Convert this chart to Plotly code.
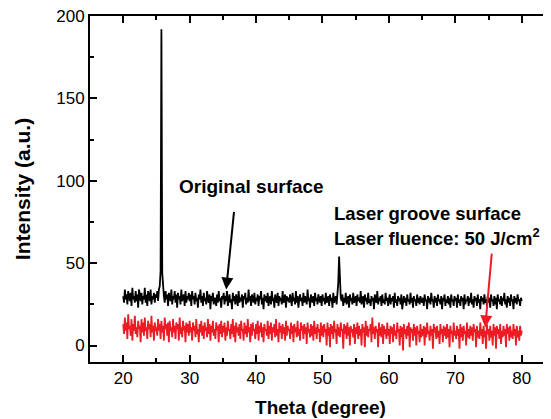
import plotly.graph_objects as go

# original surface (black), 2-theta 20..80 step 0.125
original = [
    30, 26, 34, 28, 31, 25, 33, 29, 27, 32, 24, 35, 28, 30, 26, 33, 27, 31, 23, 34,
    29, 27, 32, 25, 30, 28, 35, 26, 31, 24, 33, 29, 27, 34, 25, 30, 28, 32, 26, 31,
    29, 33, 27, 34, 36, 45, 192, 44, 35, 30, 26, 33, 28, 31, 24, 32, 29, 27, 34, 25,
    30, 28, 33, 26, 31, 23, 32, 28, 30, 25, 34, 27, 29, 31, 24, 33, 26, 30, 28, 32,
    27, 31, 24, 33, 28, 30, 25, 32, 27, 29, 23, 31, 28, 34, 26, 30, 24, 32, 27, 29,
    25, 33, 28, 26, 31, 22, 30, 27, 32, 25, 29, 28, 24, 31, 26, 33, 27, 29, 23, 30,
    28, 32, 25, 30, 27, 33, 24, 29, 31, 26, 28, 22, 32, 27, 30, 25, 31, 28, 24, 33,
    26, 29, 27, 31, 23, 30, 28, 32, 25, 29, 26, 34, 27, 30, 24, 31, 28, 26, 32, 25,
    29, 27, 31, 24, 30, 28, 33, 25, 29, 22, 31, 27, 30, 26, 32, 24, 28, 30, 25, 33,
    27, 29, 23, 31, 28, 26, 32, 24, 30, 27, 29, 25, 33, 26, 28, 31, 23, 30, 27, 29,
    26, 31, 28, 24, 32, 27, 29, 25, 33, 26, 30, 23, 28, 31, 27, 29, 24, 32, 26, 30,
    28, 25, 34, 27, 29, 23, 31, 28, 26, 30, 24, 32, 27, 29, 25, 31, 28, 26, 30, 24,
    31, 27, 29, 25, 32, 26, 28, 30, 24, 31, 27, 29, 23, 32, 26, 28, 30, 25, 30, 38,
    54, 37, 29, 27, 31, 24, 29, 26, 32, 25, 28, 30, 23, 31, 27, 29, 25, 32, 26, 28,
    30, 24, 31, 27, 29, 26, 33, 25, 28, 30, 23, 31, 27, 29, 25, 32, 26, 28, 24, 30,
    27, 29, 22, 31, 28, 26, 33, 25, 29, 27, 30, 24, 31, 26, 28, 25, 32, 27, 29, 24,
    28, 31, 25, 29, 27, 30, 23, 32, 26, 28, 24, 30, 27, 29, 25, 31, 22, 28, 30, 26,
    29, 24, 31, 27, 28, 25, 32, 26, 29, 23, 30, 27, 28, 24, 31, 26, 29, 25, 30, 27,
    26, 29, 24, 31, 27, 28, 22, 30, 26, 29, 25, 32, 27, 28, 23, 30, 26, 29, 24, 31,
    27, 28, 25, 30, 22, 29, 27, 31, 24, 28, 26, 30, 25, 29, 23, 31, 27, 28, 24, 30,
    27, 29, 23, 31, 26, 28, 24, 30, 27, 29, 22, 31, 25, 28, 27, 30, 24, 29, 26, 32,
    25, 28, 23, 30, 27, 29, 24, 31, 26, 28, 22, 30, 27, 29, 25, 31, 26, 28, 24, 30,
    26, 29, 23, 31, 27, 28, 24, 30, 25, 29, 22, 31, 27, 28, 25, 30, 24, 29, 27, 32,
    25, 28, 23, 30, 26, 29, 24, 31, 27, 28, 22, 30, 26, 29, 25, 31, 27, 28, 24, 29,
    27,
]

# laser groove surface (red)
groove = [
    13, 7, 17, 9, 14, 4, 19, 10, 12, 6, 16, 3, 13, 9, 18, 7, 11, 5, 15, 10,
    12, 2, 16, 8, 14, 6, 17, 9, 11, 4, 15, 10, 13, 5, 18, 8, 12, 3, 14, 9,
    11, 6, 16, 9, 13, 4, 15, 8, 12, 3, 17, 10, 13, 6, 14, 2, 15, 9, 11, 5,
    16, 8, 12, 4, 14, 10, 13, 3, 17, 7, 11, 5, 15, 9, 12, 2, 14, 8, 13, 6,
    15, 8, 11, 3, 14, 9, 12, 5, 16, 7, 10, 2, 13, 8, 15, 6, 12, 4, 14, 9,
    11, 5, 16, 7, 13, 3, 12, 8, 15, 6, 10, 4, 14, 9, 12, 2, 13, 7, 15, 5,
    12, 8, 14, 3, 11, 6, 15, 9, 10, 4, 13, 7, 16, 5, 12, 2, 14, 8, 11, 6,
    13, 4, 15, 9, 10, 3, 14, 7, 12, 5, 16, 8, 11, 2, 13, 6, 14, 9, 10, 4,
    13, 7, 15, 3, 12, 8, 14, 5, 11, 2, 13, 9, 10, 6, 15, 4, 12, 7, 14, 3,
    11, 8, 13, 5, 16, 6, 10, 2, 14, 8, 12, 4, 13, 7, 11, 3, 15, 6, 12, 9,
    10, 4, 14, 7, 12, 2, 13, 8, 11, 5, 15, 6, 10, 3, 14, 9, 12, 4, 13, 7,
    11, 1, 14, 8, 10, 5, 13, 6, 12, 3, 15, 7, 11, 4, 13, 8, 10, 2, 14, 6,
    12, 5, 13, 8, 10, 0, 14, 6, 11, -1, 13, 7, 12, 4, 15, 8, 10, 1, 13, 6,
    11, 5, 14, 9, 10, -2, 13, 7, 12, 4, 14, 6, 11, 0, 12, 8, 10, 5, 13, 1,
    11, 7, 14, 4, 12, 6, 10, 0, 13, 8, 11, -1, 15, 6, 12, 5, 10, 9, 13, 2,
    17, 7, 11, 4, 12, 8, 10, -1, 14, 6, 11, 5, 13, 1, 12, 7, 10, 4, 14, 6,
    10, 1, 12, 7, 11, 2, 13, 6, 9, 4, 14, 8, 10, 0, 12, 5, 11, -3, 13, 7,
    10, 4, 12, 6, 14, -1, 11, 8, 10, 3, 13, 6, 11, 0, 12, 7, 9, 2, 13, 5,
    10, 6, 12, 0, 11, 5, 14, 7, 9, 3, 12, 6, 10, -2, 13, 8, 11, 4, 12, 5,
    9, 1, 13, 7, 10, 2, 12, 6, 11, 4, 13, 5, 10, -1, 12, 7, 9, 2, 14, 6,
    9, 4, 12, 6, 10, -2, 13, 5, 11, 3, 12, 7, 9, 0, 14, 5, 10, 4, 12, 6,
    11, 3, 13, 8, 10, -1, 12, 5, 9, 4, 14, 6, 10, 1, 12, 5, 9, -2, 13, 7,
    10, 3, 12, 5, 9, 0, 13, 6, 11, -2, 12, 7, 10, 4, 13, 1, 9, 5, 12, 6,
    10, -1, 13, 7, 11, 3, 12, 5, 9, 4, 13, 6, 10, 0, 12, 5, 9, 3, 12, 6,
    9,
]

theta = [20 + 0.125 * i for i in range(len(original))]

font = "Liberation Sans, Arial, sans-serif"
red = "#ED1C24"

fig = go.Figure()
fig.add_trace(go.Scatter(x=theta, y=original, mode="lines",
                         line=dict(color="black", width=1.8), showlegend=False))
fig.add_trace(go.Scatter(x=theta, y=groove, mode="lines",
                         line=dict(color=red, width=1.8), showlegend=False))

# labels
fig.add_annotation(x=39.25, y=96.6, text="<b>Original surface</b>", showarrow=False,
                   xanchor="center", yanchor="middle", font=dict(size=19, color="black"))
fig.add_annotation(x=51.45, y=80.2, text="<b>Laser groove surface</b>", showarrow=False,
                   xanchor="left", yanchor="middle", font=dict(size=18.5, color="black"))
fig.add_annotation(x=51.45, y=65.6, text="<b>Laser fluence: 50 J/cm<sup>2</sup></b>",
                   showarrow=False, xanchor="left", yanchor="middle",
                   font=dict(size=18.5, color="black"))

# arrows
fig.add_annotation(x=35.5, y=34, ax=36.7, ay=82, xref="x", yref="y", axref="x", ayref="y",
                   text="", showarrow=True, arrowhead=2, arrowsize=1.2, arrowwidth=2,
                   arrowcolor="black")
fig.add_annotation(x=74.5, y=11, ax=75.5, ay=56.7, xref="x", yref="y", axref="x", ayref="y",
                   text="", showarrow=True, arrowhead=2, arrowsize=1.2, arrowwidth=2,
                   arrowcolor=red)

# the page body adds an 8px offset, so the figure is 8px smaller than the window
fig.update_layout(
    width=543, height=411,
    margin=dict(l=82, r=0, t=8, b=57),
    paper_bgcolor="white", plot_bgcolor="white",
    font=dict(family=font, size=17, color="black"),
)
fig.update_xaxes(
    range=[15, 84.4], showgrid=False, zeroline=False, automargin=False,
    showline=True, linecolor="black", linewidth=2, mirror="allticks",
    ticks="inside", ticklen=7, tickwidth=2, tickcolor="black",
    tick0=20, dtick=10, ticklabeloverflow="allow",
    minor=dict(ticks="inside", ticklen=4, tickwidth=2, tickcolor="black", dtick=5, tick0=15),
    title=dict(text="<b>Theta (degree)</b>", font=dict(size=19), standoff=13),
)
fig.update_yaxes(
    range=[-10, 200], showgrid=False, zeroline=False, automargin=False,
    showline=True, linecolor="black", linewidth=2,
    ticks="inside", ticklen=7, tickwidth=2, tickcolor="black",
    tick0=0, dtick=50, ticklabeloverflow="allow",
    minor=dict(ticks="inside", ticklen=4, tickwidth=2, tickcolor="black", dtick=25, tick0=0),
    title=dict(text="<b>Intensity (a.u.)</b>", font=dict(size=21), standoff=20),
)

fig.write_html("out.html")
